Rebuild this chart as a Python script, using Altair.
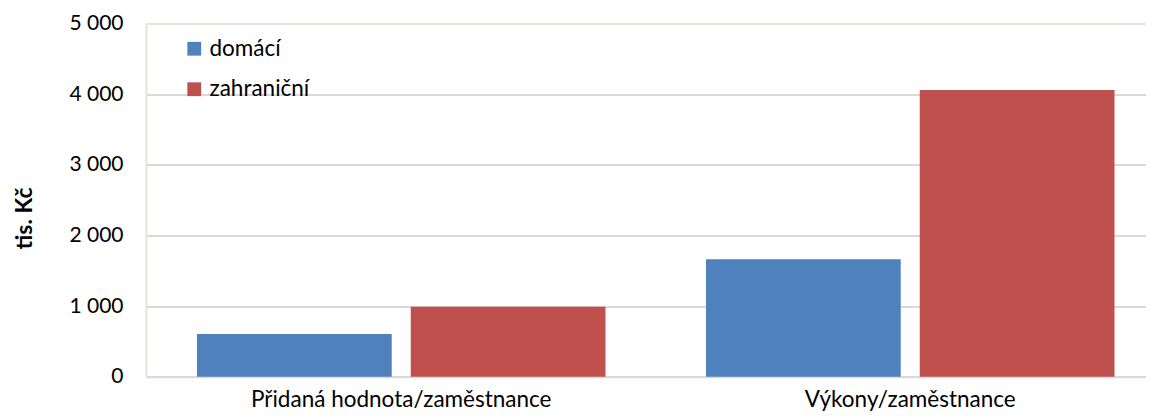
import altair as alt
import pandas as pd

categories = ["Přidaná hodnota/zaměstnance", "Výkony/zaměstnance"]
series = ["domácí", "zahraniční"]
domaci = [604, 1662]
zahranicni = [991, 4058]
y_ticks = [0, 1000, 2000, 3000, 4000, 5000]
colors = ["#4f81bd", "#c0504d"]

rows = []
for c, d, z in zip(categories, domaci, zahranicni):
    rows.append({"kategorie": c, "serie": series[0], "hodnota": d})
    rows.append({"kategorie": c, "serie": series[1], "hodnota": z})
df = pd.DataFrame(rows)

FONT = "Lato"

chart = alt.Chart(df).mark_bar().encode(
    x=alt.X(
        "kategorie:N",
        sort=categories,
        scale=alt.Scale(paddingInner=0.1974, paddingOuter=0.081, align=0.618),
        axis=alt.Axis(
            title=None,
            labelAngle=0,
            labelFont=FONT,
            labelFontSize=22.5,
            labelColor="#000000",
            labelLimit=0,
            domainColor="#d9d9d9",
            domainWidth=2,
            ticks=False,
            grid=False,
            labelPadding=12,
        ),
    ),
    xOffset=alt.XOffset(
        "serie:N", sort=series, scale=alt.Scale(paddingInner=0.089, paddingOuter=0)
    ),
    y=alt.Y(
        "hodnota:Q",
        scale=alt.Scale(domain=[0, 5000], nice=False),
        axis=alt.Axis(
            values=y_ticks,
            labelExpr="replace(format(datum.value, ','), ',', ' ')",
            labelFont=FONT,
            labelFontSize=21,
            labelColor="#000000",
            labelPadding=23,
            ticks=False,
            domainColor="#e6e4dc",
            domainWidth=2,
            gridColor={
                "condition": {"test": "datum.value >= 5000", "value": "#e6e4dc"},
                "value": "#d9d9d9",
            },
            gridWidth=2,
            title="tis. Kč",
            titleFont=FONT,
            titleFontSize=23,
            titleFontWeight="bold",
            titleColor="#000000",
            titleAngle=270,
            titleX=-122,
            titleY=194.5,
            titleAlign="center",
            titleBaseline="middle",
        ),
    ),
    color=alt.Color(
        "serie:N",
        sort=series,
        scale=alt.Scale(domain=series, range=colors),
        legend=alt.Legend(
            title=None,
            orient="none",
            legendX=37,
            legendY=14,
            direction="vertical",
            symbolType="square",
            symbolSize=190,
            symbolStrokeWidth=0,
            symbolOpacity=1,
            labelFont=FONT,
            labelFontSize=22.5,
            labelColor="#000000",
            labelOffset=4,
            rowPadding=17.5,
            padding=0,
        ),
    ),
).properties(
    width=1000,
    height=353.2,
    autosize=alt.AutoSizeParams(type="none"),
    padding={"left": 138, "top": 15.5, "right": 0, "bottom": 35.3},
).configure_view(
    strokeWidth=0,
    stroke=None,
)

chart.save("out.html", embed_options={"renderer": "svg", "actions": False})
